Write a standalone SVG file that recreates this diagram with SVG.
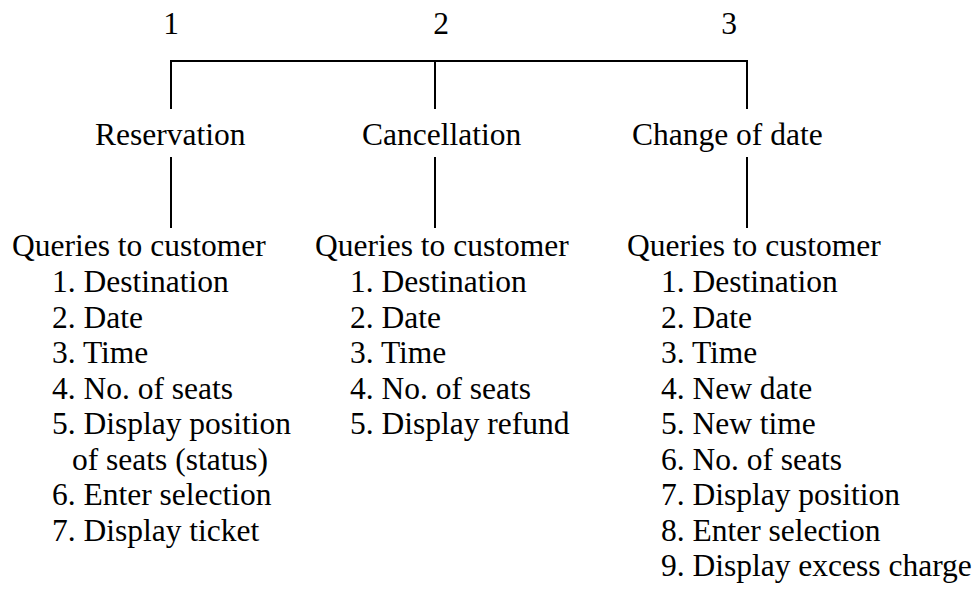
<svg xmlns="http://www.w3.org/2000/svg" width="979" height="593" viewBox="0 0 979 593">
<style>
text{font-family:"Liberation Serif","Times New Roman",serif;font-size:31.5px;fill:#000}
.c{stroke:#000;stroke-width:2;fill:none}
</style>
<rect width="979" height="593" fill="#fff"/>
<g id="connectors">
<path class="c" d="M171 109V61H747V109M435 61V109"/>
<path class="c" d="M171 157V228M435 157V228M747 157V228"/>
</g>
<g id="num1"><text x="171" y="34" text-anchor="middle">1</text></g>
<g id="num2"><text x="441" y="34" text-anchor="middle">2</text></g>
<g id="num3"><text x="729" y="34" text-anchor="middle">3</text></g>
<g id="reservation"><text x="95" y="145">Reservation</text></g>
<g id="cancellation"><text x="362" y="145">Cancellation</text></g>
<g id="change"><text x="632" y="145">Change of date</text></g>
<g id="col1">
<text x="12" y="256">Queries to customer</text>
<text x="52" y="292">1. Destination</text>
<text x="52" y="327.5">2. Date</text>
<text x="52" y="363">3. Time</text>
<text x="52" y="398.5">4. No. of seats</text>
<text x="52" y="434">5. Display position</text>
<text x="72" y="469.5">of seats (status)</text>
<text x="52" y="505">6. Enter selection</text>
<text x="52" y="540.5">7. Display ticket</text>
</g>
<g id="col2">
<text x="315" y="256">Queries to customer</text>
<text x="350" y="292">1. Destination</text>
<text x="350" y="327.5">2. Date</text>
<text x="350" y="363">3. Time</text>
<text x="350" y="398.5">4. No. of seats</text>
<text x="350" y="434">5. Display refund</text>
</g>
<g id="col3">
<text x="627" y="256">Queries to customer</text>
<text x="661" y="292">1. Destination</text>
<text x="661" y="327.5">2. Date</text>
<text x="661" y="363">3. Time</text>
<text x="661" y="398.5">4. New date</text>
<text x="661" y="434">5. New time</text>
<text x="661" y="469.5">6. No. of seats</text>
<text x="661" y="505">7. Display position</text>
<text x="661" y="540.5">8. Enter selection</text>
<text x="661" y="576">9. Display excess charge</text>
</g>
</svg>
